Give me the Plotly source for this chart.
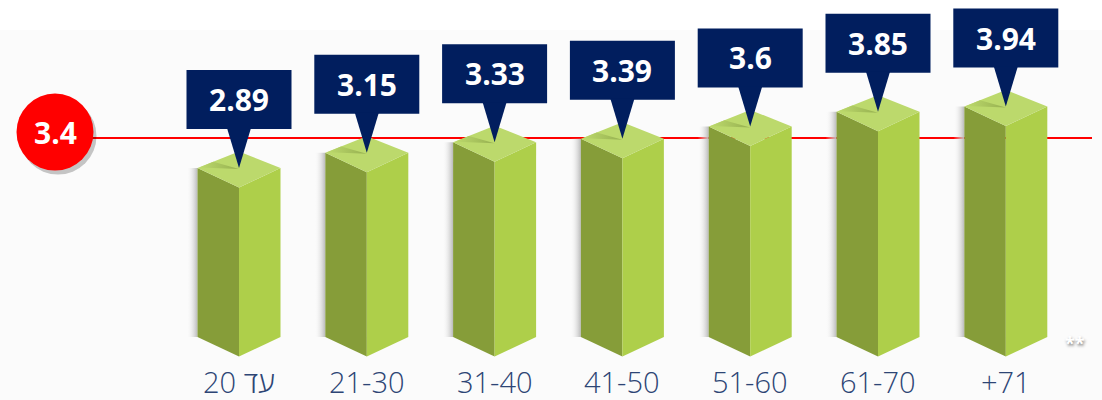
import plotly.graph_objects as go

# Average score by age group, with the overall average as reference
age_groups = ["עד 20", "21-30", "31-40", "41-50", "51-60", "61-70", "+71"]
scores = [2.89, 3.15, 3.33, 3.39, 3.6, 3.85, 3.94]
overall_avg = 3.4

W, H = 1102, 400
PX_PER_CAT = 127.8      # horizontal pixels per category step
PX_PER_UNIT = 58.5      # vertical pixels per score unit
CAT0_PX = 239           # pixel column of the first category
ZERO_PX = 337           # pixel row of score zero

x_range = [-CAT0_PX / PX_PER_CAT, (W - CAT0_PX) / PX_PER_CAT]
y_range = [-(H - ZERO_PX) / PX_PER_UNIT, ZERO_PX / PX_PER_UNIT]


def dx(p):
    return p / PX_PER_CAT


def dy(p):
    return p / PX_PER_UNIT


def px_to_x(p):
    return x_range[0] + dx(p)


def px_to_y(p):
    return y_range[1] - dy(p)


LEFT_FACE = "#869d39"
RIGHT_FACE = "#aecf4a"
TOP_FACE = "#bcd96c"
NAVY = "#011e5e"

HW = dx(41.5)       # half width of a prism
TOP_UP = dy(16.5)   # back vertex above the side corners
FRONT_DN = dy(19.5) # front vertex below the side corners

fig = go.Figure()


def poly(xs, ys, color=None, gradient=None):
    kw = dict(x=xs + [xs[0]], y=ys + [ys[0]], mode="lines", fill="toself",
              line=dict(width=0), hoverinfo="skip", showlegend=False)
    if gradient is not None:
        kw["fillgradient"] = gradient
    else:
        kw["fillcolor"] = color
    fig.add_trace(go.Scatter(**kw))


for i, v in enumerate(scores):
    c = i
    # soft shadow strip on the left side
    poly([c - HW - dx(11), c - HW, c - HW, c - HW - dx(11)],
         [0, 0, v, v],
         gradient=dict(type="horizontal",
                       colorscale=[[0, "rgba(255,255,255,0)"], [1, "rgba(185,185,185,1)"]]))
    # left face
    poly([c - HW, c, c, c - HW], [v, v - FRONT_DN, -FRONT_DN, 0], LEFT_FACE)
    # right face
    poly([c, c + HW, c + HW, c], [v - FRONT_DN, v, 0, -FRONT_DN], RIGHT_FACE)
    # top face
    poly([c - HW, c, c + HW, c], [v, v + TOP_UP, v, v - FRONT_DN], TOP_FACE)
    # shaded wedge on the top face
    poly([c - HW * 0.62, c, c - HW * 0.95],
         [v + TOP_UP * 0.38, v - dy(1), v + TOP_UP * 0.03],
         gradient=dict(type="horizontal",
                       colorscale=[[0, "rgba(188,217,108,1)"], [1, "rgba(150,176,80,1)"]]))

shapes = []
# light backdrop
shapes.append(dict(type="rect", xref="paper", yref="y", x0=0, x1=1,
                   y0=y_range[0], y1=px_to_y(30), fillcolor="#fbfbfb",
                   line=dict(width=0), layer="below"))
# overall average line
shapes.append(dict(type="line", xref="x", yref="y", x0=px_to_x(90), x1=px_to_x(1092),
                   y0=overall_avg, y1=overall_avg, line=dict(color="#ff0000", width=2),
                   layer="below"))

# callout boxes
annotations = []
for i, v in enumerate(scores):
    c = i
    shapes.append(dict(type="rect", xref="x", yref="y",
                       x0=c - dx(52.5), x1=c + dx(52.5),
                       y0=v + dy(39), y1=v + dy(98),
                       fillcolor=NAVY, line=dict(width=0)))
    shapes.append(dict(type="path", xref="x", yref="y",
                       path=f"M {c - dx(12)} {v + dy(40)} L {c + dx(12)} {v + dy(40)} L {c} {v} Z",
                       fillcolor=NAVY, line=dict(width=0)))
    annotations.append(dict(x=c, y=v + dy(68.5), xref="x", yref="y",
                            text=f"{v:g}", showarrow=False,
                            font=dict(family="Open Sans", size=30, color="white", weight=700)))
    annotations.append(dict(x=c, y=px_to_y(381), xref="x", yref="y",
                            text=age_groups[i], showarrow=False,
                            font=dict(family="Open Sans", size=29, color="#2d4575", weight=300)))

# average badge
cx, cy, r = px_to_x(55), overall_avg + dy(6), 38.5
shapes.append(dict(type="circle", xref="x", yref="y",
                   x0=cx - dx(r) + dx(3), x1=cx + dx(r) + dx(3),
                   y0=cy - dy(r) - dy(4), y1=cy + dy(r) - dy(4),
                   fillcolor="rgba(0,0,0,0.22)", line=dict(width=0)))
shapes.append(dict(type="circle", xref="x", yref="y",
                   x0=cx - dx(r), x1=cx + dx(r), y0=cy - dy(r), y1=cy + dy(r),
                   fillcolor="#ff0000", line=dict(width=0)))
annotations.append(dict(x=cx, y=cy, xref="x", yref="y", text=f"{overall_avg:g}",
                        showarrow=False,
                        font=dict(family="Open Sans", size=30, color="white", weight=700)))
annotations.append(dict(x=px_to_x(1075), y=px_to_y(343), xref="x", yref="y", text="**",
                        showarrow=False,
                        font=dict(family="Open Sans", size=18, color="white", weight=700,
                                  shadow="1px 2px 3px #888")))

fig.update_layout(
    width=W, height=H, autosize=False,
    margin=dict(l=0, r=0, t=0, b=0),
    paper_bgcolor="white", plot_bgcolor="white",
    xaxis=dict(range=x_range, visible=False, fixedrange=True),
    yaxis=dict(range=y_range, visible=False, fixedrange=True),
    shapes=shapes, annotations=annotations, showlegend=False,
)

fig.write_html("out.html")
